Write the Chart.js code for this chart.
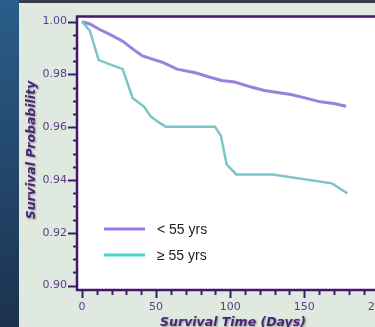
<!DOCTYPE html>
<html>
<head>
<meta charset="utf-8">
<script src="https://cdn.jsdelivr.net/npm/chart.js@4.4.1/dist/chart.umd.min.js"></script>
<style>
  html, body { margin: 0; padding: 0; width: 375px; height: 327px; overflow: hidden; background: #dfe9df; }
  #strip  { position: absolute; left: 0; top: 0; width: 19px; height: 327px; background: linear-gradient(#2b5d8a, #1b324e); }
  #topbar { position: absolute; left: 19px; top: 0; width: 356px; height: 3px; background: #3b3b4f; }
  #wrap   { position: absolute; left: 0; top: 0; width: 400px; height: 327px; }
</style>
</head>
<body>
<div id="strip"></div>
<div id="topbar"></div>
<div id="wrap"><canvas id="km" width="400" height="327"></canvas></div>
<script>
// ── Data ──────────────────────────────────────────────────────────────────────
const youngDays = [0, 5.3, 12, 19.8, 27.5, 30.9, 35.3, 40.9, 47.5, 54.2, 64.2, 76.5, 86.5, 94.2, 103.1, 114.2, 123.1, 132, 140.9, 149.8, 160.9, 169.8, 178.2];
const youngSurv = [1.000, 0.9991, 0.9970, 0.9949, 0.9926, 0.9911, 0.9892, 0.9870, 0.9858, 0.9846, 0.9820, 0.9806, 0.9789, 0.9777, 0.9771, 0.9752, 0.9739, 0.9731, 0.9724, 0.9712, 0.9696, 0.9690, 0.9679];

const oldDays = [0, 5.3, 11.3, 27.5, 34.2, 42, 46.5, 52, 56.5, 89.8, 93.8, 97.6, 104.2, 128.7, 168.7, 179.1];
const oldSurv = [1.000, 0.9966, 0.9854, 0.9820, 0.9711, 0.9677, 0.9640, 0.9618, 0.9602, 0.9602, 0.9567, 0.9459, 0.9421, 0.9421, 0.9387, 0.9349];

const seriesLabels = ['< 55 yrs', '\u2265 55 yrs'];
const yMajorTicks  = [0.90, 0.92, 0.94, 0.96, 0.98, 1.00];
const xMajorTicks  = [0, 50, 100, 150, 200];
const yMinorStep   = 0.005;
const xMinorStep   = 10;

const AXIS   = '#43186a';
const TICKTX = '#5b3d8a';

const toPoints = (xs, ys) => xs.map((x, i) => ({ x, y: ys[i] }));

// ── Frame, ticks, titles and legend ───────────────────────────────────────────
const framePlugin = {
    id: 'frame',
    beforeDatasetsDraw(chart) {
        const { ctx, chartArea: a } = chart;
        ctx.save();
        ctx.fillStyle = '#ffffff';
        ctx.fillRect(a.left, a.top, a.right - a.left, a.bottom - a.top);
        ctx.restore();
    },
    afterDatasetsDraw(chart) {
        const { ctx, chartArea: a, scales } = chart;
        const xs = scales.x, ys = scales.y;
        ctx.save();
        ctx.strokeStyle = AXIS;
        ctx.lineWidth = 2.5;
        ctx.beginPath();
        ctx.moveTo(a.right + 5, a.top);
        ctx.lineTo(a.left, a.top);
        ctx.lineTo(a.left, a.bottom);
        ctx.lineTo(a.right + 5, a.bottom);
        ctx.stroke();

        ctx.lineWidth = 2;
        // y ticks
        for (let v = 0.90; v <= 1.0001; v += yMinorStep) {
            const major = yMajorTicks.some((t) => Math.abs(t - v) < 1e-6);
            const y = Math.round(ys.getPixelForValue(v)) + 0.5;
            ctx.beginPath();
            ctx.moveTo(a.left, y);
            ctx.lineTo(a.left - (major ? 9 : 4), y);
            ctx.stroke();
        }
        // x ticks
        for (let v = 0; v <= 210; v += xMinorStep) {
            const major = xMajorTicks.includes(v);
            const x = Math.round(xs.getPixelForValue(v)) + 0.5;
            ctx.beginPath();
            ctx.moveTo(x, a.bottom);
            ctx.lineTo(x, a.bottom + (major ? 8 : 5));
            ctx.stroke();
        }
        ctx.restore();
    },
    afterDraw(chart) {
        const { ctx } = chart;
        ctx.save();
        ctx.fillStyle = '#4b2478';
        ctx.shadowColor = 'rgba(0,0,0,0.35)';
        ctx.shadowBlur = 2;
        ctx.shadowOffsetX = 1;
        ctx.shadowOffsetY = 1;
        ctx.font = 'italic bold 12.5px "DejaVu Sans"';
        ctx.textAlign = 'center';
        ctx.textBaseline = 'middle';
        ctx.save();
        ctx.translate(32, 150);
        ctx.rotate(-Math.PI / 2);
        ctx.fillText('Survival Probability', 0, 0);
        ctx.restore();
        ctx.fillText('Survival Time (Days)', 233, 323);
        ctx.restore();

        // legend inside the plot
        const legendColors = ['#9d72f2', '#46d6d2'];
        const legendY = [229, 255];
        ctx.save();
        ctx.font = '14px "Liberation Sans"';
        ctx.textBaseline = 'middle';
        ctx.fillStyle = '#1e1e1e';
        seriesLabels.forEach((label, i) => {
            ctx.strokeStyle = legendColors[i];
            ctx.lineWidth = 3;
            ctx.beginPath();
            ctx.moveTo(104, legendY[i]);
            ctx.lineTo(145, legendY[i]);
            ctx.stroke();
            ctx.fillText(label, 157, legendY[i] + 1);
        });
        ctx.restore();
    },
};

new Chart(document.getElementById('km'), {
    type: 'line',
    data: {
        datasets: [
            {
                label: seriesLabels[1],
                data: toPoints(oldDays, oldSurv),
                borderColor: '#7cc5c9',
                borderWidth: 2.5,
                pointRadius: 0,
                tension: 0,
                fill: false,
            },
            {
                label: seriesLabels[0],
                data: toPoints(youngDays, youngSurv),
                borderColor: '#9b80de',
                borderWidth: 3,
                pointRadius: 0,
                tension: 0,
                fill: false,
            },
        ],
    },
    options: {
        responsive: false,
        animation: false,
        devicePixelRatio: 1,
        layout: { padding: { top: 12, right: 3, left: 0, bottom: 0 } },
        plugins: { legend: { display: false }, tooltip: { enabled: false } },
        scales: {
            x: {
                type: 'linear',
                min: -3.33,
                max: 210,
                grid: { display: false, drawTicks: false },
                border: { display: false },
                afterBuildTicks: (s) => { s.ticks = xMajorTicks.map((value) => ({ value })); },
                afterFit: (s) => { s.height = 37; },
                ticks: {
                    autoSkip: false,
                    maxRotation: 0,
                    padding: 11,
                    color: TICKTX,
                    font: { family: 'DejaVu Sans', size: 11 },
                    callback: (v) => String(v),
                },
            },
            y: {
                min: 0.8983,
                max: 1.0019,
                grid: { display: false, drawTicks: false },
                border: { display: false },
                afterBuildTicks: (s) => { s.ticks = yMajorTicks.map((value) => ({ value })); },
                afterFit: (s) => { s.width = 77; },
                ticks: {
                    autoSkip: false,
                    padding: 10,
                    color: TICKTX,
                    font: { family: 'DejaVu Sans', size: 11 },
                    callback: (v) => v.toFixed(2),
                },
            },
        },
    },
    plugins: [framePlugin],
});
</script>
</body>
</html>
